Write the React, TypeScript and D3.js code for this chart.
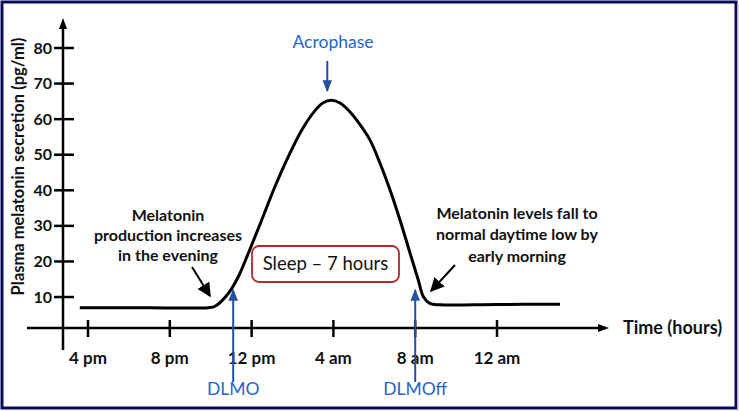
import React from "react";
import * as d3 from "d3";

const yTicks = [10, 20, 30, 40, 50, 60, 70, 80];
const xTickHours = [16, 20, 24, 28, 32, 36];
const xTickLabels = ["4 pm", "8 pm", "12 pm", "4 am", "8 am", "12 am"];
const curveHours = [15.6, 19.0, 21.88, 22.21, 22.86, 23.35, 23.84, 24.49, 25.14, 25.79, 26.45, 27.1, 27.5, 27.9, 28.3, 28.7, 29.14, 29.79, 30.28, 30.77, 31.26, 31.75, 32.15, 32.4, 32.72, 33.21, 36.0, 39.08];
const curveValues = [7.0, 7.0, 7.0, 7.4, 11.0, 15.7, 22.3, 31.6, 41.0, 49.4, 56.9, 62.4, 64.6, 65.3, 64.6, 62.7, 59.7, 54.1, 47.6, 40.1, 31.6, 22.3, 14.8, 10.1, 8.2, 7.8, 7.9, 8.0];
const dlmoHour = 23.1;
const dlmoffHour = 32.0;
const acrophaseHour = 27.7;

const W = 739;
const H = 411;
const FONT = "Lato, 'Open Sans', sans-serif";

export default function App() {
  const x = d3.scaleLinear().domain([16, 36]).range([88, 497]);
  const y = d3.scaleLinear().domain([0, 80]).range([332.6, 48]);
  const axisY = 328;
  const axisX = 63;
  const pts: [number, number][] = curveHours.map((h, i) => [h, curveValues[i]]);
  const line = d3
    .line<[number, number]>()
    .x((d) => x(d[0]))
    .y((d) => y(d[1]))
    .curve(d3.curveCatmullRom.alpha(0.5));
  const blue = "#1f66c8";
  const darkBlue = "#23519e";

  return (
    <svg width={W} height={H} style={{ position: "fixed", left: 0, top: 0, background: "#fff" }}>
      <defs>
        <marker id="blk" viewBox="0 0 10 10" refX="9" refY="5" markerWidth="7" markerHeight="7" orient="auto">
          <path d="M0,0 L10,5 L0,10 Z" fill="#000" />
        </marker>
        <marker id="blu" viewBox="0 0 10 10" refX="9" refY="5" markerWidth="6" markerHeight="6" orient="auto">
          <path d="M0,1 L10,5 L0,9 Z" fill={darkBlue} />
        </marker>
      </defs>
      <rect x={0} y={0} width={W} height={H} fill="#fff" />
      <rect x={2} y={2} width={734} height={406} fill="none" stroke="#0a0a5c" strokeWidth={3} />
      <line x1={738} y1={4} x2={738} y2={411} stroke="#c8c8c8" strokeWidth={1.5} />

      {/* Y axis */}
      <line x1={axisX} y1={350} x2={axisX} y2={27} stroke="#000" strokeWidth={2.5} />
      <path d={`M${axisX - 4},29 L${axisX},18 L${axisX + 4},29 Z`} fill="#000" />
      {yTicks.map((t) => (
        <g key={t}>
          <line x1={axisX - 9} x2={axisX + 11} y1={y(t)} y2={y(t)} stroke="#000" strokeWidth={2.5} />
          <text x={axisX - 11} y={y(t)} dy="0.35em" textAnchor="end" fontFamily={FONT} fontWeight="bold" fontSize={16} fill="#111">
            {t}
          </text>
        </g>
      ))}
      <text
        transform={`translate(24,166.5) rotate(-90)`}
        textAnchor="middle"
        fontFamily={FONT}
        fontWeight="bold"
        fontSize={16.5}
        fill="#111"
      >
        Plasma melatonin secretion (pg/ml)
      </text>

      {/* X axis */}
      <line x1={27} y1={axisY} x2={600} y2={axisY} stroke="#000" strokeWidth={2.5} />
      <path d={`M598,${axisY - 4} L609,${axisY} L598,${axisY + 4} Z`} fill="#000" />
      {xTickHours.map((h, i) => (
        <g key={h}>
          <line x1={x(h)} x2={x(h)} y1={axisY - 8} y2={axisY + 9} stroke="#000" strokeWidth={2.5} />
          <text x={x(h)} y={358} dy="0.35em" textAnchor="middle" fontFamily={FONT} fontWeight="bold" fontSize={17} fill="#111">
            {xTickLabels[i]}
          </text>
        </g>
      ))}
      <text x={623} y={axisY} dy="0.35em" fontFamily={FONT} fontWeight="bold" fontSize={18} fill="#111">
        Time (hours)
      </text>

      {/* Curve */}
      <path d={line(pts) || ""} fill="none" stroke="#000" strokeWidth={3} />

      {/* Acrophase */}
      <text x={333} y={42} dy="0.35em" textAnchor="middle" fontFamily={FONT} fontSize={17.5} fill={blue}>
        Acrophase
      </text>
      <line x1={x(acrophaseHour)} y1={61} x2={x(acrophaseHour)} y2={91} stroke={darkBlue} strokeWidth={2} markerEnd="url(#blu)" />

      {/* DLMO / DLMOff */}
      <line x1={x(dlmoHour)} y1={382} x2={x(dlmoHour)} y2={290} stroke={darkBlue} strokeWidth={2} markerEnd="url(#blu)" />
      <text x={x(dlmoHour)} y={389} dy="0.35em" textAnchor="middle" fontFamily={FONT} fontSize={17.5} fill={blue}>
        DLMO
      </text>
      <line x1={x(dlmoffHour)} y1={382} x2={x(dlmoffHour)} y2={290} stroke={darkBlue} strokeWidth={2} markerEnd="url(#blu)" />
      <text x={x(dlmoffHour)} y={389} dy="0.35em" textAnchor="middle" fontFamily={FONT} fontSize={17.5} fill={blue}>
        DLMOff
      </text>

      {/* Sleep box */}
      <rect x={252} y={246} width={147} height={36} rx={7} ry={7} fill="#fff" stroke="#b02a2a" strokeWidth={1.8} />
      <text x={325.5} y={264} dy="0.35em" textAnchor="middle" fontFamily={FONT} fontSize={18.5} fill="#111">
        Sleep – 7 hours
      </text>

      {/* Left annotation */}
      <g fontFamily={FONT} fontWeight="bold" fontSize={16} fill="#111" textAnchor="middle">
        <text x={168} y={215} dy="0.35em">Melatonin</text>
        <text x={168} y={235} dy="0.35em">production increases</text>
        <text x={168} y={255} dy="0.35em">in the evening</text>
      </g>
      <line x1={192} y1={267} x2={210} y2={296} stroke="#000" strokeWidth={2} markerEnd="url(#blk)" />

      {/* Right annotation */}
      <g fontFamily={FONT} fontWeight="bold" fontSize={16} fill="#111" textAnchor="middle">
        <text x={517} y={213} dy="0.35em">Melatonin levels fall to</text>
        <text x={517} y={234} dy="0.35em">normal daytime low by</text>
        <text x={517} y={256} dy="0.35em">early morning</text>
      </g>
      <line x1={455} y1={265} x2={431} y2={291} stroke="#000" strokeWidth={2} markerEnd="url(#blk)" />
    </svg>
  );
}
